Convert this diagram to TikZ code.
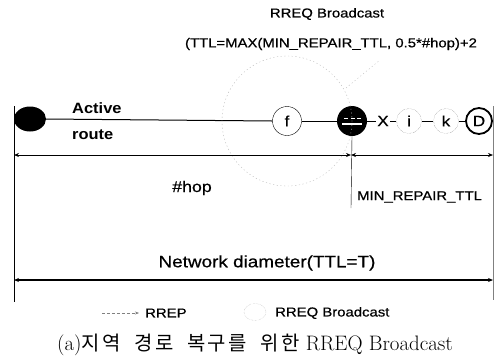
\documentclass[tikz,border=0pt]{standalone}
\usepackage{fontspec}
\newfontfamily\lab[FakeStretch=1.15,FakeBold=0.6]{Liberation Sans}
\newfontfamily\labb[FakeStretch=1.1]{Liberation Sans}
\newfontfamily\kr[LetterSpace=12,WordSpace=2]{Noto Sans CJK KR}
\usetikzlibrary{arrows.meta,shapes.geometric}
\begin{document}
\begin{tikzpicture}[x=1bp,y=-1bp,
  txt/.style={font=\lab\fontsize{13}{15}\selectfont, inner sep=0pt},
  fnode/.style={circle, draw=gray, densely dotted, thin, minimum size=25bp, inner sep=0pt, font=\lab\fontsize{15}{17}\selectfont},
  dim/.style={{Stealth[length=5bp,width=4bp]}-{Stealth[length=5bp,width=4bp]}},
  bcast/.style={gray!55, dash pattern=on 1.2bp off 2.5bp, thin}]
\useasboundingbox (0,0) rectangle (495,361);
% top labels
\node[txt] (rb) at (327,14) {RREQ Broadcast};
\node[txt] (ttl) at (331,44) {(TTL=MAX(MIN\_REPAIR\_TTL, 0.5*\#hop)+2};
% nodes
\node[ellipse, fill=black, minimum width=32bp, minimum height=25bp, inner sep=0pt] (s) at (30,119) {};
\node[circle, draw, thin, minimum size=29bp, inner sep=0pt, font=\lab\fontsize{15}{17}\selectfont] (f) at (287,121) {f};
\node[circle, fill=black, minimum size=30bp, inner sep=0pt] (r) at (352,121) {};
\draw[white, line width=1.2bp] ([xshift=-10bp,yshift=-3bp]r.center) -- ([xshift=10bp,yshift=-3bp]r.center);
\draw[white, line width=1bp] ([xshift=-8bp,yshift=3bp]r.center) -- ([xshift=-4bp,yshift=3bp]r.center)
  ([xshift=-1bp,yshift=3bp]r.center) -- ([xshift=3bp,yshift=3bp]r.center)
  ([xshift=5bp,yshift=3bp]r.center) -- ([xshift=9bp,yshift=3bp]r.center);
\node[font=\lab\fontsize{15}{17}\selectfont, inner sep=1bp] (x) at (383,121) {X};
\node[fnode] (i) at (409,121) {i};
\node[fnode] (k) at (446,121) {k};
\node[circle, draw, line width=1.8bp, minimum size=26bp, inner sep=0pt, font=\lab\fontsize{15}{17}\selectfont] (d) at (479,121) {D};
% route
\draw[line width=1bp] (s.east) -- (f.west);
\draw[line width=1bp] (f.east) -- (r.west);
\draw[line width=1bp] (r.east) -- (x.west);
\draw[line width=1bp] (x.east) -- (i.west);
\draw[line width=1bp] (i.east) -- (k.west);
\draw[line width=1bp] (k.east) -- (d.west);
\node[font=\labb\bfseries\fontsize{15}{17}\selectfont, inner sep=0pt, anchor=base west] (act) at (72,113) {Active};
\node[font=\labb\bfseries\fontsize{15}{17}\selectfont, inner sep=0pt, anchor=base west] (rte) at (72,139) {route};
% broadcast circle
\draw[bcast] (f.center) circle[radius=65bp];
\coordinate (p1) at (346,88);
\coordinate (p2) at (380,60);
\draw[bcast] (p1) -- (p2);
% vertical frame lines
\coordinate (l1) at (14,106);
\coordinate (l2) at (14,302);
\coordinate (r1) at (493,106);
\coordinate (r2) at (493,300);
\draw[thin] (l1) -- (l2);
\draw[gray, thin] (r1) -- (r2);
% dimension lines
\coordinate (h0) at (14,155);
\coordinate (h1) at (351,155);
\coordinate (h2) at (493,155);
\coordinate (v2) at (351,208);
\draw[thin] (r.south) -- (v2);
\draw[dim, line width=0.7bp] (h0) -- (h1);
\draw[dim, line width=0.7bp] (h1) -- (h2);
\node[txt, font=\lab\fontsize{15.5}{17}\selectfont] (hop) at (192,188) {\#hop};
\node[txt, anchor=west] (mrt) at (357,197) {MIN\_REPAIR\_TTL};
\coordinate (n0) at (14,280);
\coordinate (n1) at (493,280);
\draw[dim, line width=1.6bp] (n0) -- (n1);
\node[txt, font=\lab\fontsize{16.5}{19}\selectfont] (nd) at (267,263) {Network diameter(TTL=T)};
% legend
\coordinate (la) at (102,313);
\coordinate (lb) at (139,313);
\draw[gray, densely dashed, thin, -{Stealth[length=4bp,width=3bp]}] (la) -- (lb);
\node[txt, anchor=west] (lrrep) at (145,313) {RREP};
\node[ellipse, draw=gray!60, densely dotted, thin, minimum width=22bp, minimum height=17bp, inner sep=0pt] (lc) at (255,312) {};
\node[txt, anchor=west] (lrreq) at (275,313) {RREQ Broadcast};
% caption
\node[inner sep=0pt, font=\fontsize{21}{24}\selectfont] (cap) at (255,345) {(a){\kr\fontsize{20}{24}\selectfont 지역 경로 복구를 위한} RREQ Broadcast};
\end{tikzpicture}
\end{document}
